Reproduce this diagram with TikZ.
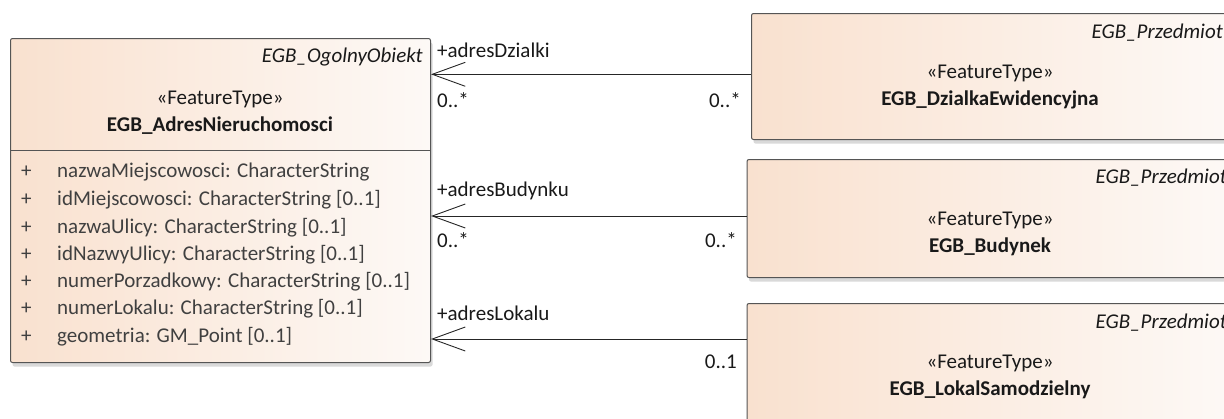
\documentclass[tikz,border=0pt]{standalone}
\usepackage{fontspec}
\setmainfont{Carlito}
\usetikzlibrary{arrows.meta,shadows}
\definecolor{peach}{HTML}{F9E1CF}
\definecolor{pale}{HTML}{FDF9F6}
\definecolor{attr}{HTML}{404040}
\definecolor{edge}{HTML}{555555}
\newcommand{\fs}{\fontsize{21}{25}\selectfont}
\tikzset{
  cls/.style={draw=edge, line width=1pt, rounded corners=2pt, left color=peach, right color=pale,
    anchor=north west, inner sep=0pt,
    drop shadow={shadow xshift=2pt, shadow yshift=-4pt, opacity=0.25, fill=black!60}},
  assoc/.style={draw=black!85, line width=0.9pt, -{Straight Barb[length=33pt, width=24pt, line width=0.9pt]}},
  lbl/.style={inner sep=0pt, text=black!90},
  attrtxt/.style={inner sep=0pt, anchor=west, text=attr},
  every node/.append style={font=\fs}
}
\begin{document}
\begin{tikzpicture}[x=1pt,y=1pt]
\useasboundingbox (0,0) rectangle (1224,-418);
\clip (0,0) rectangle (1224,-418);
% classes
\node[cls, minimum width=420pt, minimum height=324pt] (adr) at (10,-38) {};
\node[cls, minimum width=480pt, minimum height=126pt] (dz) at (751,-13) {};
\node[cls, minimum width=486pt, minimum height=118pt] (bud) at (746.5,-159) {};
\node[cls, minimum width=486pt, minimum height=130pt] (lok) at (746.5,-303) {};
\draw[edge, line width=1pt] (adr.west |- 0,-150.7) -- (adr.east |- 0,-150.7);
% left class texts
\node[lbl, anchor=east, font=\fs\itshape] (adrp) at (423,-57) {EGB\_OgolnyObiekt};
\node[lbl] (adrs) at (220,-99) {«FeatureType»};
\node[lbl, font=\fs\bfseries] (adrn) at (220,-126) {EGB\_AdresNieruchomosci};
\foreach \y/\t [count=\i] in {172/{nazwaMiejscowosci: CharacterString},
  200/{idMiejscowosci: CharacterString [0..1]},
  228/{nazwaUlicy: CharacterString [0..1]},
  255/{idNazwyUlicy: CharacterString [0..1]},
  282/{numerPorzadkowy: CharacterString [0..1]},
  309/{numerLokalu: CharacterString [0..1]},
  337/{geometria: GM\_Point [0..1]}}{
  \node[attrtxt] (pl\i) at (21,-\y) {+};
  \node[attrtxt] (at\i) at (57,-\y) {\t};
}
% right class texts
\node[lbl, anchor=east, font=\fs\itshape] (dzp) at (1223,-33) {EGB\_Przedmiot};
\node[lbl] (dzs) at (990,-73) {«FeatureType»};
\node[lbl, font=\fs\bfseries] (dzn) at (990,-100) {EGB\_DzialkaEwidencyjna};
\node[lbl, anchor=east, font=\fs\itshape] (budp) at (1227,-178) {EGB\_Przedmiot};
\node[lbl] (buds) at (990,-220) {«FeatureType»};
\node[lbl, font=\fs\bfseries] (budn) at (990,-247) {EGB\_Budynek};
\node[lbl, anchor=east, font=\fs\itshape] (lokp) at (1227,-323) {EGB\_Przedmiot};
\node[lbl] (loks) at (990,-363) {«FeatureType»};
\node[lbl, font=\fs\bfseries] (lokn) at (990,-390) {EGB\_LokalSamodzielny};
% associations
\draw[assoc] (dz.west |- 0,-74.3) -- (adr.east |- 0,-74.3);
\draw[assoc] (bud.west |- 0,-216) -- (adr.east |- 0,-216);
\draw[assoc] (lok.west |- 0,-339) -- (adr.east |- 0,-339);
% association labels
\node[lbl, anchor=west] (r1) at (437,-50) {+adresDzialki};
\node[lbl, anchor=west] (m1a) at (437,-100) {0..*};
\node[lbl, anchor=east] (m1b) at (741,-100) {0..*};
\node[lbl, anchor=west] (r2) at (437,-191) {+adresBudynku};
\node[lbl, anchor=west] (m2a) at (437,-240) {0..*};
\node[lbl, anchor=east] (m2b) at (737,-240) {0..*};
\node[lbl, anchor=west] (r3) at (437,-313) {+adresLokalu};
\node[lbl, anchor=east] (m3b) at (737,-362) {0..1};
\end{tikzpicture}
\end{document}
